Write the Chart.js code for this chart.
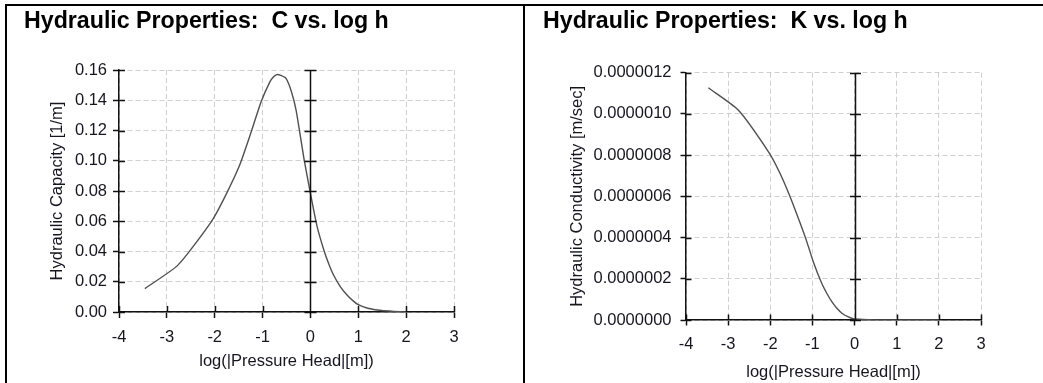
<!DOCTYPE html>
<html>
<head>
<meta charset="utf-8">
<script src="https://cdn.jsdelivr.net/npm/chart.js@4.4.1/dist/chart.umd.min.js"></script>
<style>
  html, body { margin: 0; padding: 0; background: #fff; }
  body { width: 1043px; height: 383px; position: relative; overflow: hidden; }
  canvas { position: absolute; top: 0; }
  .b { position: absolute; background: #000; z-index: 5; }
</style>
</head>
<body>
<canvas id="c1" width="523" height="383" style="left:0px"></canvas>
<canvas id="c2" width="520" height="383" style="left:523px"></canvas>
<div class="b" style="left:5px; top:4px; width:1038px; height:2px;"></div>
<div class="b" style="left:5px; top:4px; width:2px; height:379px;"></div>
<div class="b" style="left:523px; top:4px; width:2px; height:379px;"></div>
<script>
// ---- Data ----
const xTicks = [-4, -3, -2, -1, 0, 1, 2, 3];

const logH_C = [-3.46, -2.77, -2.07, -1.79, -1.48, -1.27, -1.03, -0.85, -0.77, -0.70, -0.62, -0.51, -0.40, -0.30, -0.13, 0.0, 0.14, 0.28, 0.38, 0.48, 0.62, 0.76, 0.88, 1.0, 1.2, 1.49, 1.75, 2.0];
const capC   = [0.0155, 0.031, 0.0598, 0.076, 0.097, 0.116, 0.139, 0.152, 0.1555, 0.157, 0.1565, 0.1545, 0.146, 0.1335, 0.1005, 0.0785, 0.0565, 0.041, 0.032, 0.0246, 0.017, 0.0114, 0.0077, 0.0048, 0.0025, 0.001, 0.0004, 0.0];
const cTicks = [0, 0.02, 0.04, 0.06, 0.08, 0.10, 0.12, 0.14, 0.16];

const logH_K = [-3.47, -2.76, -2.02, -1.77, -1.53, -1.29, -1.13, -0.98, -0.78, -0.66, -0.54, -0.42, -0.30, -0.16, -0.03, 0.2, 0.5, 1.0, 2.0];
const condK  = [1.127e-6, 1.019e-6, 0.809e-6, 0.712e-6, 0.598e-6, 0.469e-6, 0.378e-6, 0.283e-6, 0.178e-6, 0.130e-6, 0.089e-6, 0.057e-6, 0.033e-6, 0.016e-6, 0.006e-6, 0.0025e-6, 0.0008e-6, 0.0002e-6, 0];
const kTicks = [0, 2e-7, 4e-7, 6e-7, 8e-7, 10e-7, 12e-7];

const titleC = 'Hydraulic Properties:  C vs. log h';
const titleK = 'Hydraulic Properties:  K vs. log h';
const xTitle = 'log(|Pressure Head|[m])';
const yTitleC = 'Hydraulic Capacity [1/m]';
const yTitleK = 'Hydraulic Conductivity [m/sec]';

const FONT = "'Liberation Sans', Arial, Helvetica, sans-serif";
const TXT = '#161620';

const crossPlugin = {
  id: 'crossTicks',
  afterDraw(chart, args, opts) {
    const {ctx, chartArea: a, scales: {x, y}} = chart;
    const L = opts.len || 5;
    ctx.save();
    ctx.strokeStyle = '#111';
    ctx.lineWidth = 1.5;
    ctx.beginPath();
    const x0 = Math.round(x.getPixelForValue(0)) + 0.5;
    ctx.moveTo(x0, a.top); ctx.lineTo(x0, a.bottom);
    y.ticks.forEach(t => {
      const py = Math.round(y.getPixelForValue(t.value)) + 0.5;
      ctx.moveTo(a.left, py); ctx.lineTo(a.left + L, py);
      ctx.moveTo(x0 - L, py); ctx.lineTo(x0 + L, py);
    });
    x.ticks.forEach(t => {
      const px = Math.round(x.getPixelForValue(t.value)) + 0.5;
      ctx.moveTo(px, a.bottom); ctx.lineTo(px, a.bottom - L);
    });
    ctx.stroke();
    ctx.restore();
  }
};

function makeChart(id, xs, ys, cfg) {
  const pts = xs.map((v, i) => ({x: v, y: ys[i]}));
  return new Chart(document.getElementById(id), {
    type: 'line',
    data: { datasets: [{ data: pts, borderColor: '#505050', borderWidth: 1.4, pointRadius: 0, fill: false, tension: 0.2 }] },
    plugins: [crossPlugin],
    options: {
      responsive: false, animation: false, devicePixelRatio: 1,
      layout: { padding: cfg.padding },
      plugins: {
        legend: { display: false }, tooltip: { enabled: false },
        crossTicks: { len: cfg.tickLen },
        title: { display: true, text: cfg.title, align: 'start', color: '#000',
                 font: { family: FONT, size: 23.2, weight: 'bold' }, padding: cfg.titlePad }
      },
      scales: {
        x: {
          type: 'linear', min: -4, max: 3,
          afterBuildTicks: s => { s.ticks = xTicks.map(v => ({value: v})); },
          afterFit: s => { s.height = cfg.xH; },
          ticks: { color: TXT, font: { family: FONT, size: 16.5 }, padding: cfg.xPad, callback: v => String(v), maxRotation: 0 },
          grid: { color: '#cfcfcf', lineWidth: 1, tickLength: cfg.tickLen, tickColor: '#111', tickWidth: 1.5 },
          border: { color: '#111', width: 1.5, dash: [5, 3] },
          title: { display: true, text: xTitle, color: TXT, font: { family: FONT, size: 16.5 }, padding: { top: 0, bottom: cfg.xTitlePad } }
        },
        y: {
          type: 'linear', min: 0, max: cfg.yMax,
          afterBuildTicks: s => { s.ticks = cfg.yTicks.map(v => ({value: v})); },
          afterFit: s => { s.width = cfg.yW; },
          ticks: { color: TXT, font: { family: FONT, size: 16.5 }, padding: cfg.yPad, callback: v => v.toFixed(cfg.dec) },
          grid: { color: '#cfcfcf', lineWidth: 1, tickLength: cfg.tickLen, tickColor: '#111', tickWidth: 1.5 },
          border: { color: '#111', width: 1.5, dash: [5, 3] },
          title: { display: true, text: cfg.yTitle, color: TXT, font: { family: FONT, size: 16.5 }, padding: { top: cfg.yTitlePad, bottom: 0 } }
        }
      }
    }
  });
}

makeChart('c1', logH_C, capC, {
  title: titleC, yTitle: yTitleC, yTicks: cTicks, yMax: 0.16, dec: 2,
  padding: { left: 24, right: 69, top: 0, bottom: 0 },
  titlePad: { top: 8, bottom: 34.2 },
  yW: 95, xH: 71, tickLen: 6, yPad: 6, xPad: 10, yTitlePad: 23.6, xTitlePad: 11.4
});

makeChart('c2', logH_K, condK, {
  title: titleK, yTitle: yTitleK, yTicks: kTicks, yMax: 1.2e-6, dec: 7,
  padding: { left: 20, right: 62, top: 0, bottom: 0 },
  titlePad: { top: 8, bottom: 36.9 },
  yW: 143, xH: 63, tickLen: 5.5, yPad: 9, xPad: 9, yTitlePad: 24.6, xTitlePad: 0.5
});
</script>
</body>
</html>
